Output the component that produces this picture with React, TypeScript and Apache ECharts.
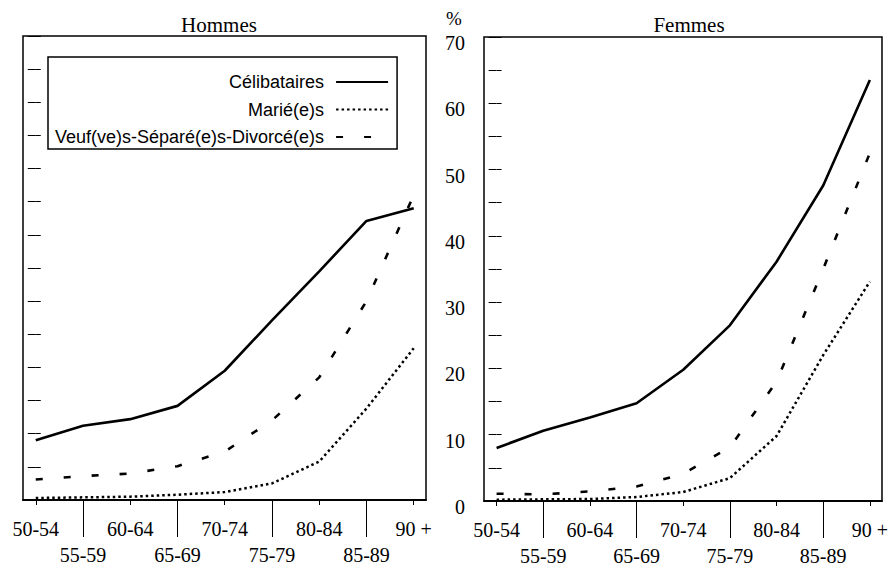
import React, { useEffect, useRef } from "react";
import * as echarts from "echarts";

const categories = ["50-54", "55-59", "60-64", "65-69", "70-74", "75-79", "80-84", "85-89", "90 +"];
const seriesNames = ["Célibataires", "Marié(e)s", "Veuf(ve)s-Séparé(e)s-Divorcé(e)s"];

const hommesCelibataires = [9.0, 11.2, 12.2, 14.2, 19.5, 27.1, 34.5, 42.1, 44.0];
const hommesMaries = [0.3, 0.4, 0.5, 0.8, 1.2, 2.5, 5.8, 13.8, 22.9];
const hommesVeufs = [3.1, 3.6, 4.0, 5.1, 7.3, 12.0, 18.5, 30.0, 46.0];

const femmesCelibataires = [8.0, 10.6, 12.6, 14.75, 19.8, 26.5, 36.1, 47.6, 63.5];
const femmesMaries = [0.2, 0.25, 0.3, 0.6, 1.35, 3.45, 9.8, 22.0, 33.1];
const femmesVeufs = [1.1, 1.0, 1.45, 2.2, 4.1, 8.1, 18.0, 35.0, 52.5];

const yTicks = [0, 10, 20, 30, 40, 50, 60, 70];

const SERIF = "Liberation Serif";
const SANS = "Liberation Sans";

const evenIdx = [0, 2, 4, 6, 8];
const oddIdx = [1, 3, 5, 7];

const lineStyles = [
  { type: "solid", width: 2.6, color: "#000" },
  { type: [2.5, 3], width: 2.5, color: "#000" },
  { type: [7, 21], width: 2.6, color: "#000" },
];

function xAxes(gridIndex: number) {
  const common = {
    type: "value",
    gridIndex,
    min: -0.27,
    max: 8.26,
    position: "bottom",
    splitLine: { show: false },
    axisLine: { show: true, onZero: false, lineStyle: { color: "#000", width: 1.5 } },
  };
  return [
    {
      ...common,
      axisTick: { show: true, customValues: evenIdx, length: 5, lineStyle: { color: "#000", width: 1 } },
      axisLabel: {
        customValues: evenIdx,
        formatter: (v: number) => categories[Math.round(v)],
        margin: 19,
        fontFamily: SERIF,
        fontSize: 20,
        color: "#000",
      },
    },
    {
      ...common,
      axisTick: { show: true, customValues: oddIdx, length: 37, lineStyle: { color: "#000", width: 1 } },
      axisLabel: {
        customValues: oddIdx,
        formatter: (v: number) => categories[Math.round(v)],
        margin: 45,
        fontFamily: SERIF,
        fontSize: 20,
        color: "#000",
      },
    },
  ];
}

function yAxes(gridIndex: number, withLabels: boolean) {
  return [
    {
      type: "value",
      gridIndex,
      position: "left",
      min: 0,
      max: 70,
      interval: 5,
      splitLine: { show: false },
      axisLine: { show: false },
      axisTick: { show: true, inside: true, length: 5, lineStyle: { color: "#000", width: 1 } },
      axisLabel: {
        show: withLabels,
        formatter: (v: number) => (yTicks.includes(v) ? `{a|${v}}` : ""),
        margin: 19,
        rich: {
          a: { fontFamily: SERIF, fontSize: 20, color: "#000", padding: [12, 0, 0, 0] },
        },
      },
    },
    {
      type: "value",
      gridIndex,
      position: "right",
      min: 0,
      max: 70,
      interval: 5,
      splitLine: { show: false },
      axisLine: { show: false },
      axisTick: { show: true, inside: true, length: 8, lineStyle: { color: "#000", width: 1 } },
      axisLabel: { show: false },
    },
  ];
}

function makeSeries(values: number[][], xIndex: number, yIndex: number) {
  return values.map((vals, s) => ({
    type: "line",
    name: seriesNames[s],
    xAxisIndex: xIndex,
    yAxisIndex: yIndex,
    symbol: "none",
    data: vals.map((v, i) => [i, v]),
    lineStyle: lineStyles[s],
    itemStyle: { color: "#000" },
  }));
}

export default function App() {
  const ref = useRef<HTMLDivElement>(null);

  useEffect(() => {
    if (!ref.current) return;
    const chart = echarts.init(ref.current, undefined, { renderer: "svg" });
    const option: any = {
      animation: false,
      backgroundColor: "#fff",
      title: [
        {
          text: "Hommes",
          left: 214,
          top: 9,
          textAlign: "center",
          textStyle: { fontFamily: SERIF, fontSize: 21, fontWeight: "normal", color: "#000" },
        },
        {
          text: "Femmes",
          left: 684,
          top: 9,
          textAlign: "center",
          textStyle: { fontFamily: SERIF, fontSize: 21, fontWeight: "normal", color: "#000" },
        },
      ],
      legend: {
        data: seriesNames,
        orient: "vertical",
        align: "right",
        left: 48,
        top: 57,
        itemWidth: 52,
        itemHeight: 18,
        itemGap: 9.5,
        padding: [16, 8, 3, 7],
        borderColor: "#000",
        borderWidth: 1.5,
        selectedMode: false,
        itemStyle: { opacity: 0, color: "transparent", borderWidth: 0 },
        formatter: (name: string) => `{t|${name}}`,
        textStyle: {
          color: "#000",
          fontFamily: SANS,
          fontSize: 18,
          rich: { t: { color: "#000", fontFamily: SANS, fontSize: 18, padding: [0, 7, 0, 0] } },
        },
      },
      grid: [
        { left: 23, top: 36, width: 403, height: 464, show: true, borderColor: "#000", borderWidth: 1.5, backgroundColor: "transparent" },
        { left: 484, top: 37, width: 399, height: 467, show: true, borderColor: "#000", borderWidth: 1.5, backgroundColor: "transparent" },
      ],
      xAxis: [...xAxes(0), ...xAxes(1)],
      yAxis: [...yAxes(0, false), ...yAxes(1, true)],
      graphic: [
        {
          type: "text",
          x: 454,
          y: 18,
          style: {
            text: "%",
            fontFamily: SERIF,
            fontSize: 19,
            fill: "#000",
            align: "center",
            verticalAlign: "middle",
          },
        },
      ],
      series: [
        ...makeSeries([hommesCelibataires, hommesMaries, hommesVeufs], 0, 0),
        ...makeSeries([femmesCelibataires, femmesMaries, femmesVeufs], 2, 2),
      ],
    };
    chart.setOption(option);
    return () => chart.dispose();
  }, []);

  return (
    <div
      ref={ref}
      style={{ position: "absolute", left: 0, top: 0, width: 891, height: 566, background: "#fff" }}
    />
  );
}
